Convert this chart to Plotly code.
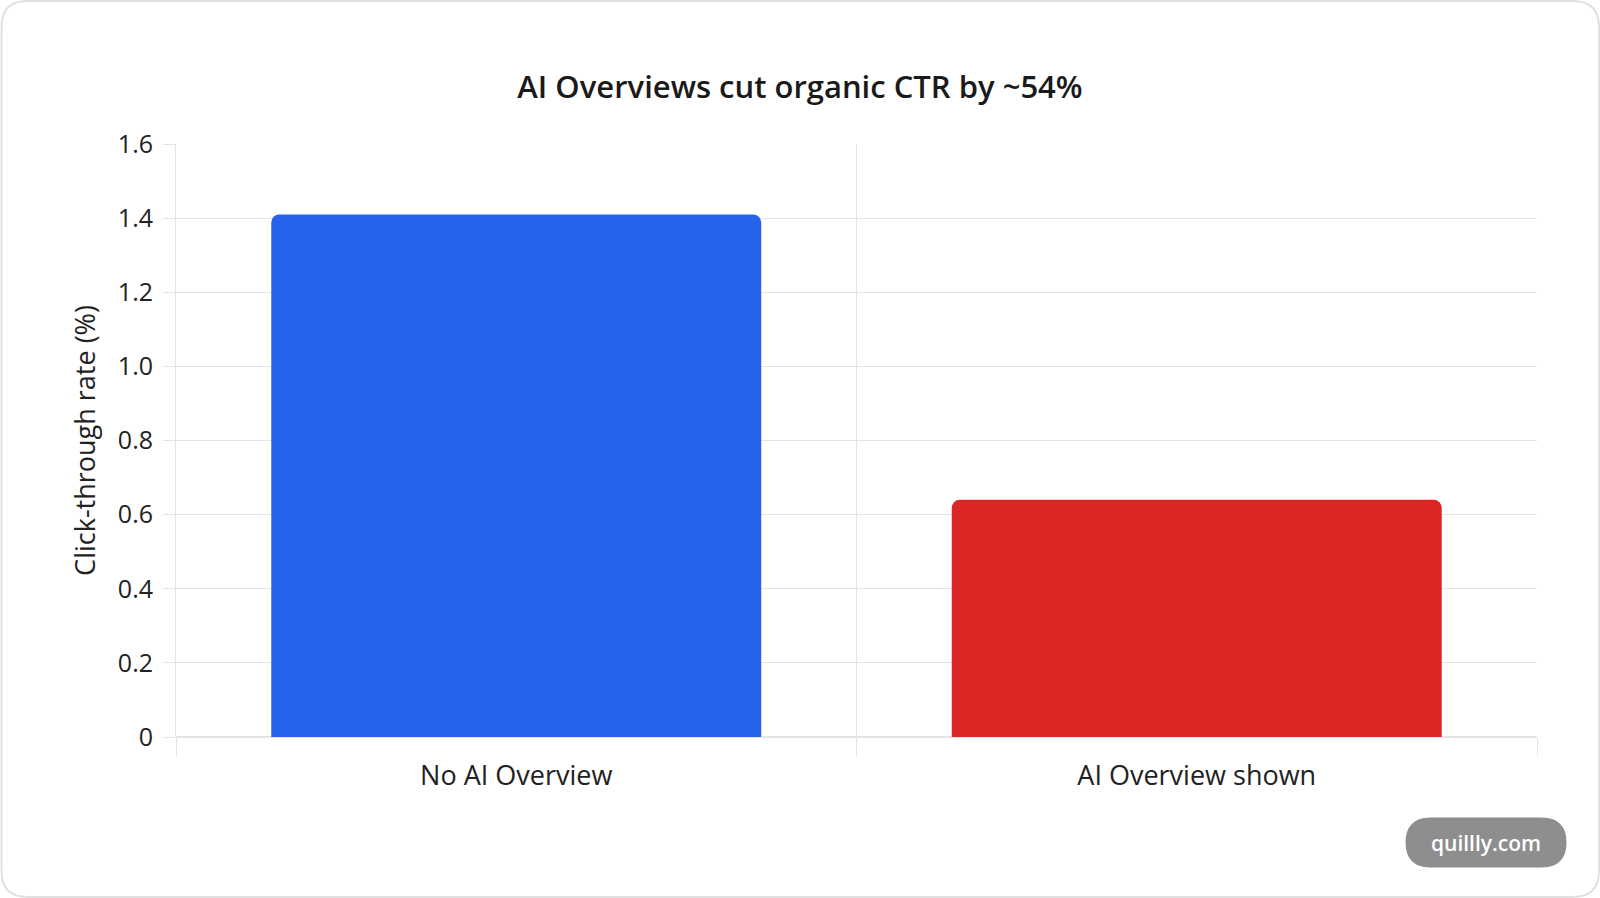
import plotly.graph_objects as go

# ---- data ----
categories = ["No AI Overview", "AI Overview shown"]
ctr_values = [1.41, 0.64]
bar_colors = ["#2563eb", "#dc2626"]
y_tick_vals = [0, 0.2, 0.4, 0.6, 0.8, 1.0, 1.2, 1.4, 1.6]
y_tick_text = ["0", "0.2", "0.4", "0.6", "0.8", "1.0", "1.2", "1.4", "1.6"]
title_text = "AI Overviews cut organic CTR by ~54%"
y_title = "Click-through rate (%)"
watermark = "quillly.com"

W, H = 1600, 898
L, R, T, B = 175.5, 63, 144, 161
FONT = "Open Sans"

pw = W - L - R
ph = H - T - B


def px2x(px):
    return (px - L) / pw


def py2y(py):
    return (H - B - py) / ph


def rounded_rect(x0, y0, x1, y1, r):
    X = px2x
    Y = py2y
    return (f"M {X(x0 + r)},{Y(y0)} L {X(x1 - r)},{Y(y0)} Q {X(x1)},{Y(y0)} {X(x1)},{Y(y0 + r)} "
            f"L {X(x1)},{Y(y1 - r)} Q {X(x1)},{Y(y1)} {X(x1 - r)},{Y(y1)} "
            f"L {X(x0 + r)},{Y(y1)} Q {X(x0)},{Y(y1)} {X(x0)},{Y(y1 - r)} "
            f"L {X(x0)},{Y(y0 + r)} Q {X(x0)},{Y(y0)} {X(x0 + r)},{Y(y0)} Z")


fig = go.Figure()
fig.add_trace(go.Bar(
    x=categories,
    y=ctr_values,
    marker=dict(color=bar_colors, line=dict(width=0), cornerradius=8),
    width=0.72,
    hoverinfo="x+y",
))

fig.update_layout(
    width=W,
    height=H,
    margin=dict(l=L, r=R, t=T, b=B, pad=0),
    paper_bgcolor="white",
    plot_bgcolor="white",
    showlegend=False,
    font=dict(family=FONT, color="#222222"),
    title=dict(
        text=title_text,
        x=0.5,
        xref="container",
        xanchor="center",
        y=1 - 87 / H,
        yref="container",
        yanchor="middle",
        font=dict(family=FONT, size=31, color="#1a1a1a", weight=600),
    ),
    xaxis=dict(
        type="category",
        tickson="boundaries",
        showgrid=True,
        gridcolor="#e4e4e4",
        gridwidth=1,
        ticks="outside",
        ticklen=18,
        tickcolor="#e4e4e4",
        showline=False,
        zeroline=False,
        tickfont=dict(family=FONT, size=27, color="#222222"),
        ticklabelstandoff=20,
        range=[-0.5, 1.5],
        fixedrange=True,
    ),
    yaxis=dict(
        range=[0, 1.6],
        tickvals=y_tick_vals,
        ticktext=y_tick_text,
        showgrid=True,
        gridcolor="#e4e4e4",
        gridwidth=1,
        ticks="outside",
        ticklen=12,
        tickcolor="#e4e4e4",
        showline=True,
        linecolor="#e4e4e4",
        linewidth=1,
        zeroline=True,
        zerolinecolor="#e4e4e4",
        tickfont=dict(family=FONT, size=25, color="#222222"),
        ticklabelstandoff=5,
        title=dict(text=y_title, font=dict(family=FONT, size=27, color="#222222"), standoff=14),
        fixedrange=True,
    ),
)

# card border
fig.add_shape(type="path", xref="paper", yref="paper",
              path=rounded_rect(1, 1, W - 1, H - 1, 26),
              line=dict(color="#e0e0e0", width=2), fillcolor="rgba(0,0,0,0)", layer="below")

# watermark pill
fig.add_shape(type="path", xref="paper", yref="paper",
              path=rounded_rect(1406, 818, 1566, 867, 24.5),
              line=dict(color="#8a8a8a", width=1), fillcolor="#8e8e8e", layer="above")
fig.add_annotation(text=watermark, xref="paper", yref="paper",
                   x=px2x(1486), y=py2y(843), xanchor="center", yanchor="middle",
                   showarrow=False,
                   font=dict(family=FONT, size=21, color="white", weight=600))

fig.write_html("out.html", config={"displayModeBar": False})
